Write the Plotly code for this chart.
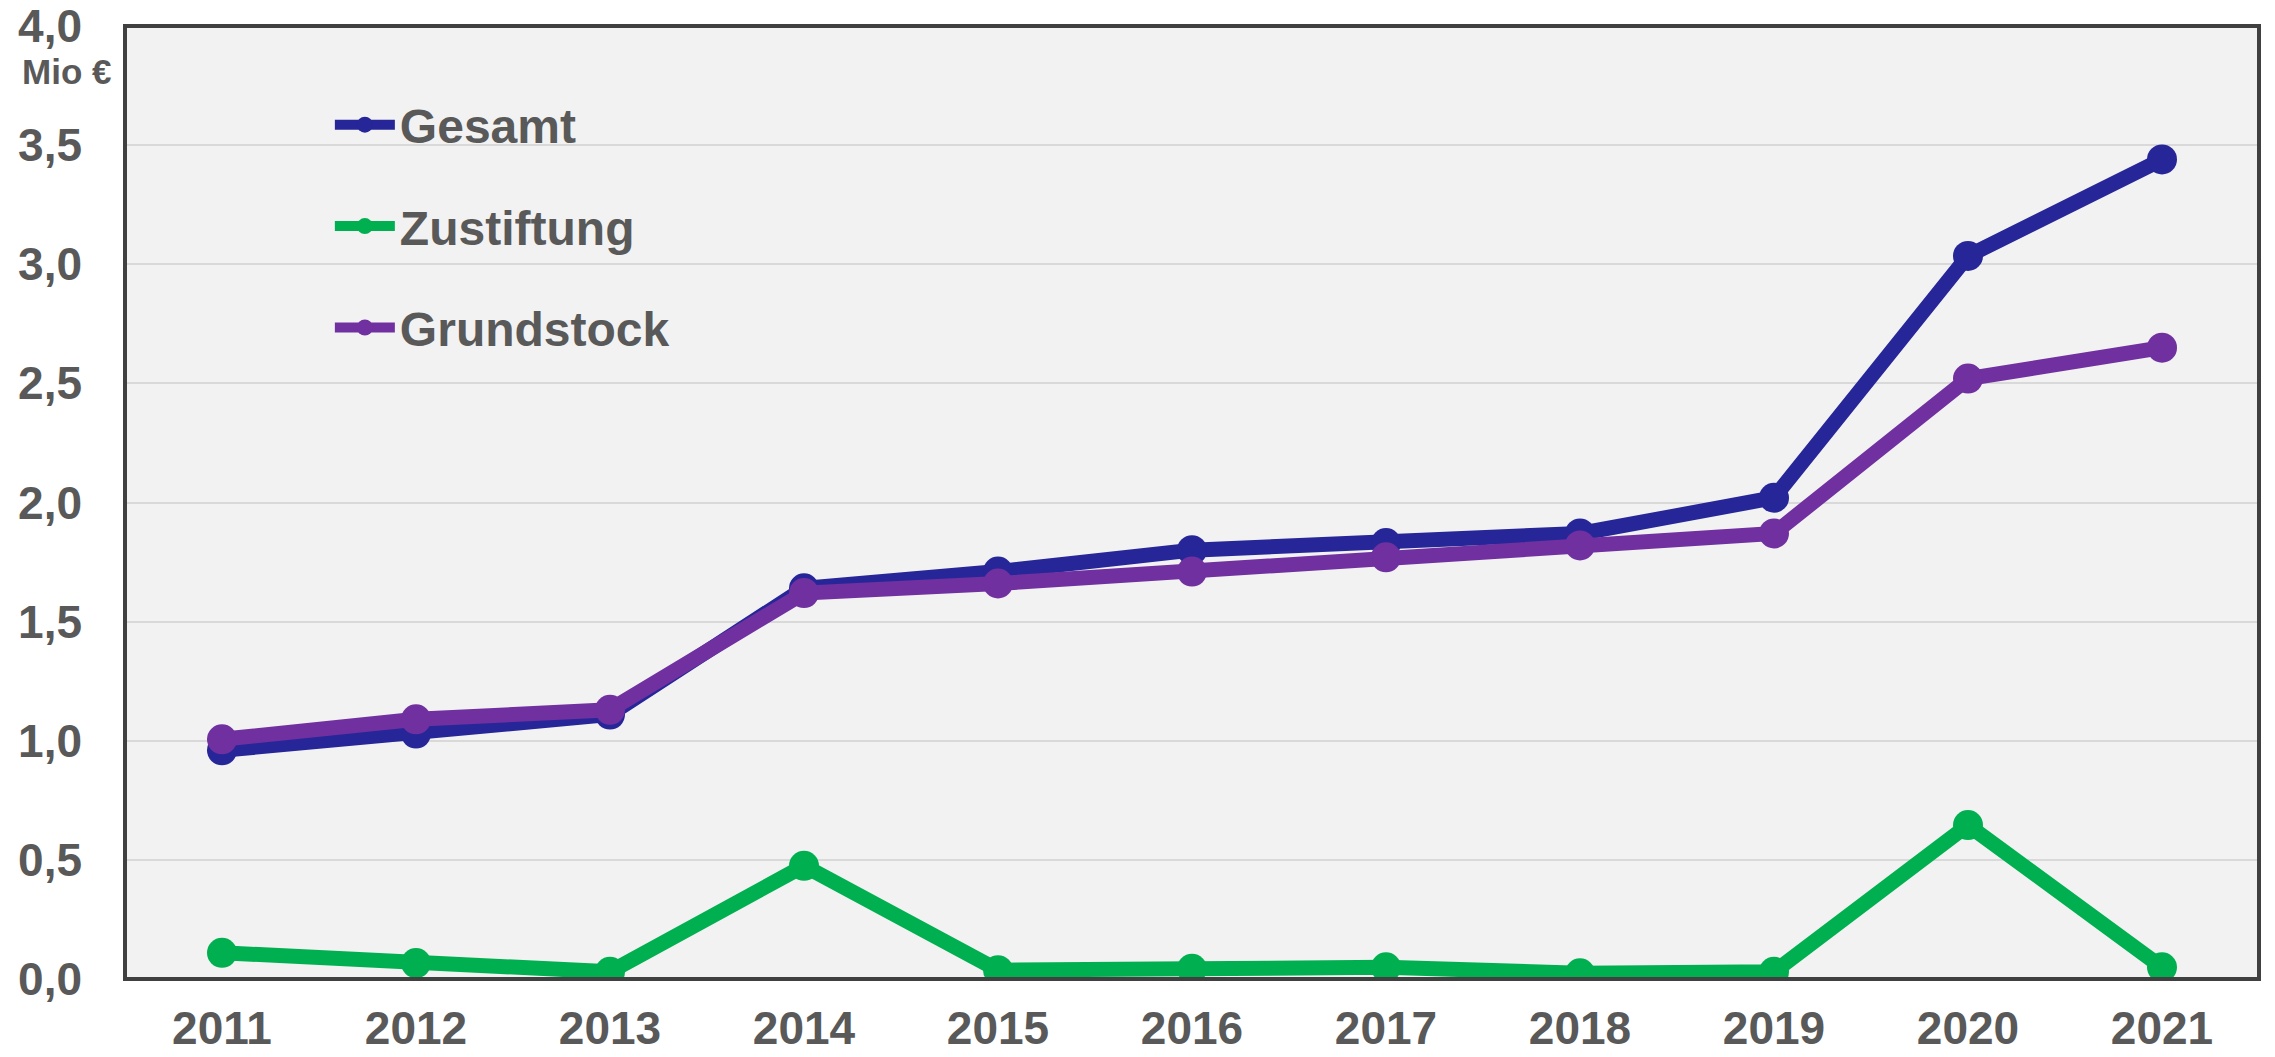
import plotly.graph_objects as go

years = [2011, 2012, 2013, 2014, 2015, 2016, 2017, 2018, 2019, 2020, 2021]
gesamt = [0.96, 1.03, 1.11, 1.64, 1.71, 1.80, 1.83, 1.87, 2.02, 3.035, 3.44]
zustiftung = [0.11, 0.067, 0.03, 0.475, 0.037, 0.043, 0.049, 0.024, 0.03, 0.646, 0.049]
grundstock = [1.006, 1.09, 1.13, 1.62, 1.66, 1.71, 1.77, 1.82, 1.87, 2.52, 2.65]

series_names = ["Gesamt", "Zustiftung", "Grundstock"]
series_colors = ["#262699", "#00B050", "#7030A0"]
y_ticks = [0, 0.5, 1.0, 1.5, 2.0, 2.5, 3.0, 3.5, 4.0]
y_ticktext = ["0,0", "0,5", "1,0", "1,5", "2,0", "2,5", "3,0", "3,5", "4,0"]

FONT = "Liberation Sans, Arial, sans-serif"
TXT = "#595959"

fig = go.Figure()
for name, vals, col in zip(series_names, [gesamt, zustiftung, grundstock], series_colors):
    fig.add_trace(go.Scatter(
        x=years, y=vals, name=name, mode="lines+markers",
        legendgroup=name,
        line=dict(color=col, width=15),
        marker=dict(color=col, size=30),
    ))

fig.update_layout(
    width=2275, height=1057,
    margin=dict(l=125, r=16, t=26, b=78, autoexpand=False),
    paper_bgcolor="white",
    plot_bgcolor="#F2F2F2",
    font=dict(family=FONT, color=TXT, size=44, weight="bold"),
    showlegend=True,
    legend=dict(
        x=0.096, y=0.936, xanchor="left", yanchor="top",
        bgcolor="rgba(0,0,0,0)",
        font=dict(family=FONT, size=48, color=TXT, weight="bold"),
        tracegroupgap=36,
        itemwidth=60,
    ),
    xaxis=dict(
        range=[2010.5, 2021.5],
        tickvals=years,
        ticktext=[str(y) for y in years],
        showgrid=False, zeroline=False, automargin=False,
        tickfont=dict(family=FONT, size=46, color=TXT, weight="bold"),
        ticks="", ticklabelstandoff=18,
    ),
    yaxis=dict(
        range=[0, 4.0],
        tickvals=y_ticks, ticktext=y_ticktext,
        showgrid=True, gridcolor="#D9D9D9", gridwidth=2,
        zeroline=False, automargin=False,
        tickfont=dict(family=FONT, size=46, color=TXT, weight="bold"),
        ticks="", ticklabelstandoff=42,
    ),
    shapes=[dict(type="rect", xref="paper", yref="paper", x0=0, x1=1, y0=0, y1=1,
                 line=dict(color="#404040", width=4), layer="above")],
    annotations=[dict(text="Mio €", xref="paper", yref="paper", x=-0.0055, y=0.952,
                      xanchor="right", yanchor="middle", showarrow=False,
                      font=dict(family=FONT, size=35, color=TXT, weight="bold"))],
)

fig.write_html("out.html", config={"displayModeBar": False},
               post_script="document.body.style.margin='0';document.body.style.overflow='hidden';")
